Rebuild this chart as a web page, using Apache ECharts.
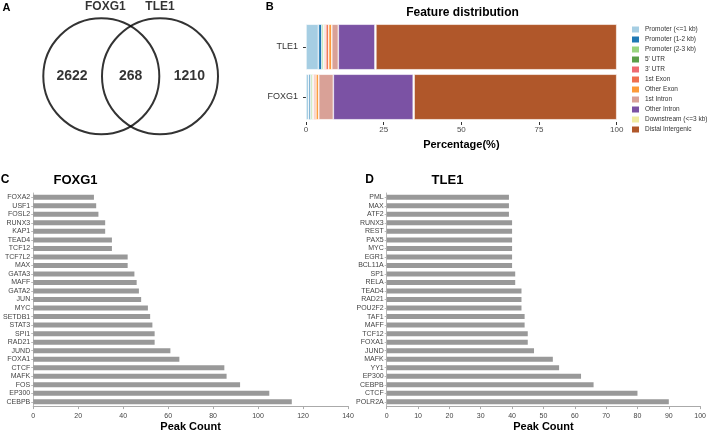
<!DOCTYPE html>
<html>
<head>
<meta charset="utf-8">
<script src="https://cdn.jsdelivr.net/npm/echarts@6/dist/echarts.min.js"></script>
<style>
html,body{margin:0;padding:0;background:#fff;}
#main{width:709px;height:440px;}
</style>
</head>
<body>
<div id="main"></div>
<script>
// ---- Panel A: Venn ----
const vennSets = ['FOXG1', 'TLE1'];
const vennCounts = [2622, 268, 1210];

// ---- Panel B: feature distribution (%) ----
const featureCategories = ['TLE1', 'FOXG1'];
const featureNames = ['Promoter (<=1 kb)', 'Promoter (1-2 kb)', 'Promoter (2-3 kb)', "5' UTR", "3' UTR",
  '1st Exon', 'Other Exon', '1st Intron', 'Other Intron', 'Downstream (<=3 kb)', 'Distal Intergenic'];
const featureTLE1 = [4.0, 1.1, 0.6, 0.2, 0.5, 0.9, 1.0, 2.1, 11.8, 0.3, 77.5];
const featureFOXG1 = [0.9, 0.6, 0.5, 0.3, 0.3, 0.6, 0.9, 4.7, 25.7, 0.3, 65.2];
const featureColors = ['#a6cee3', '#1f78b4', '#99d47f', '#5a9e48', '#ee6a70', '#ef6f4e', '#fd9a38', '#d9a197', '#7b52a4', '#f0eba0', '#b0572a'];

// ---- Panel C: FOXG1 peak counts ----
const foxg1Factors = ['FOXA2','USF1','FOSL2','RUNX3','KAP1','TEAD4','TCF12','TCF7L2','MAX','GATA3','MAFF','GATA2','JUN','MYC','SETDB1','STAT3','SPI1','RAD21','JUND','FOXA1','CTCF','MAFK','FOS','EP300','CEBPB'];
const foxg1Counts = [27, 28, 29, 32, 32, 35, 35, 42, 42, 45, 46, 47, 48, 51, 52, 53, 54, 54, 61, 65, 85, 86, 92, 105, 115];

// ---- Panel D: TLE1 peak counts ----
const tle1Factors = ['PML','MAX','ATF2','RUNX3','REST','PAX5','MYC','EGR1','BCL11A','SP1','RELA','TEAD4','RAD21','POU2F2','TAF1','MAFF','TCF12','FOXA1','JUND','MAFK','YY1','EP300','CEBPB','CTCF','POLR2A'];
const tle1Counts = [39, 39, 39, 40, 40, 40, 40, 40, 40, 41, 41, 43, 43, 43, 44, 44, 45, 45, 47, 53, 55, 62, 66, 80, 90];

const FONT = 'Arial, "Liberation Sans", sans-serif';

function label(text, x, y, size, weight) {
  return {
    type: 'text', x: x, y: y, silent: true,
    style: {
      text: text, fill: '#000', font: (weight || 'bold') + ' ' + size + 'px ' + FONT,
      align: 'center', verticalAlign: 'middle', textAlign: 'center', textVerticalAlign: 'middle'
    }
  };
}

const chart = echarts.init(document.getElementById('main'));

const featureSeries = featureNames.map((n, i) => ({
  name: n, type: 'bar', stack: 'feat', xAxisIndex: 1, yAxisIndex: 1,
  barCategoryGap: '9%',
  itemStyle: { color: featureColors[i], borderColor: '#fff', borderWidth: 0.6 },
  data: [featureTLE1[i], featureFOXG1[i]]
}));

function peakX(idx, max, interval) {
  return {
    gridIndex: idx, type: 'value', min: 0, max: max, interval: interval,
    axisLine: { show: true, lineStyle: { color: '#aaa', width: 1 } },
    axisTick: { show: true, length: 3, lineStyle: { color: '#aaa' } },
    splitLine: { show: false },
    axisLabel: { fontSize: 7, color: '#444', margin: 6, fontFamily: FONT },
    name: 'Peak Count', nameLocation: 'middle', nameGap: 15,
    nameTextStyle: { fontSize: 11, fontWeight: 'bold', color: '#000', fontFamily: FONT }
  };
}
function peakY(idx, cats) {
  return {
    gridIndex: idx, type: 'category', data: cats, inverse: true,
    axisLine: { show: true, lineStyle: { color: '#bbb', width: 1 } },
    axisTick: { show: true, length: 2, alignWithLabel: true, lineStyle: { color: '#bbb' } },
    axisLabel: { fontSize: 7, color: '#444', margin: 3, fontFamily: FONT, interval: 0 }
  };
}

chart.setOption({
  animation: false,
  backgroundColor: '#fff',
  textStyle: { fontFamily: FONT },
  grid: [
    { left: 42.6, top: 19.3, width: 176.1, height: 114 },
    { left: 306, top: 22, width: 310.7, height: 100 },
    { left: 31, top: 193, width: 317, height: 221 },
    { left: 386.7, top: 193, width: 316.6, height: 221 }
  ],
  xAxis: [
    { gridIndex: 0, type: 'value', min: -1, max: 2, show: false },
    {
      gridIndex: 1, type: 'value', min: 0, max: 100, interval: 25,
      axisLine: { show: false },
      axisTick: { show: true, length: 3, lineStyle: { color: '#333' } },
      splitLine: { show: false },
      axisLabel: { fontSize: 8, color: '#4d4d4d', margin: 4, fontFamily: FONT },
      name: 'Percentage(%)', nameLocation: 'middle', nameGap: 17,
      nameTextStyle: { fontSize: 11, fontWeight: 'bold', color: '#000', fontFamily: FONT }
    },
    peakX(2, 140, 20),
    peakX(3, 100, 10)
  ],
  yAxis: [
    { gridIndex: 0, type: 'value', min: -1, max: 1, show: false },
    {
      gridIndex: 1, type: 'category', data: featureCategories, inverse: true,
      axisLine: { show: false },
      axisTick: { show: true, length: 3, alignWithLabel: true, lineStyle: { color: '#333' } },
      axisLabel: { fontSize: 9, color: '#333', margin: 8, fontFamily: FONT }
    },
    peakY(2, foxg1Factors),
    peakY(3, tle1Factors)
  ],
  legend: {
    data: featureNames, orient: 'vertical', left: 630, top: 24.5, padding: 0,
    icon: 'rect', itemWidth: 9, itemHeight: 8, itemGap: 0,
    textStyle: { fontSize: 6.5, color: '#333', lineHeight: 8, fontFamily: FONT },
    selectedMode: false
  },
  series: [
    {
      type: 'scatter', xAxisIndex: 0, yAxisIndex: 0, symbol: 'circle', symbolSize: 116,
      itemStyle: { color: 'rgba(0,0,0,0)', borderColor: '#000', borderWidth: 2 },
      label: {
        show: true, position: 'top', distance: 5, color: '#000', fontSize: 12, fontWeight: 'bold',
        formatter: p => p.data.name
      },
      data: vennSets.map((s, i) => ({ name: s, value: [i, 0], label: { offset: [i === 0 ? 4 : 0, 0] } })),
      silent: true, z: 3
    },
    {
      type: 'scatter', xAxisIndex: 0, yAxisIndex: 0, symbolSize: 0,
      label: {
        show: true, position: 'inside', color: '#000', fontSize: 14, fontWeight: 'bold',
        formatter: p => String(p.data[2])
      },
      data: vennCounts.map((c, i) => [i - 0.5, 0, c]),
      silent: true, z: 4
    },
    ...featureSeries,
    {
      type: 'bar', xAxisIndex: 2, yAxisIndex: 2, barWidth: 5,
      itemStyle: { color: '#999' }, data: foxg1Counts, silent: true
    },
    {
      type: 'bar', xAxisIndex: 3, yAxisIndex: 3, barWidth: 5,
      itemStyle: { color: '#999' }, data: tle1Counts, silent: true
    }
  ],
  graphic: [
    label('A', 6.5, 7.5, 11),
    label('B', 269.6, 6.5, 11),
    label('Feature distribution', 462.5, 12.5, 12),
    label('C', 5, 180, 12),
    label('FOXG1', 75.5, 180, 13),
    label('D', 369.5, 180, 12),
    label('TLE1', 447.5, 180, 13)
  ]
});
</script>
</body>
</html>
